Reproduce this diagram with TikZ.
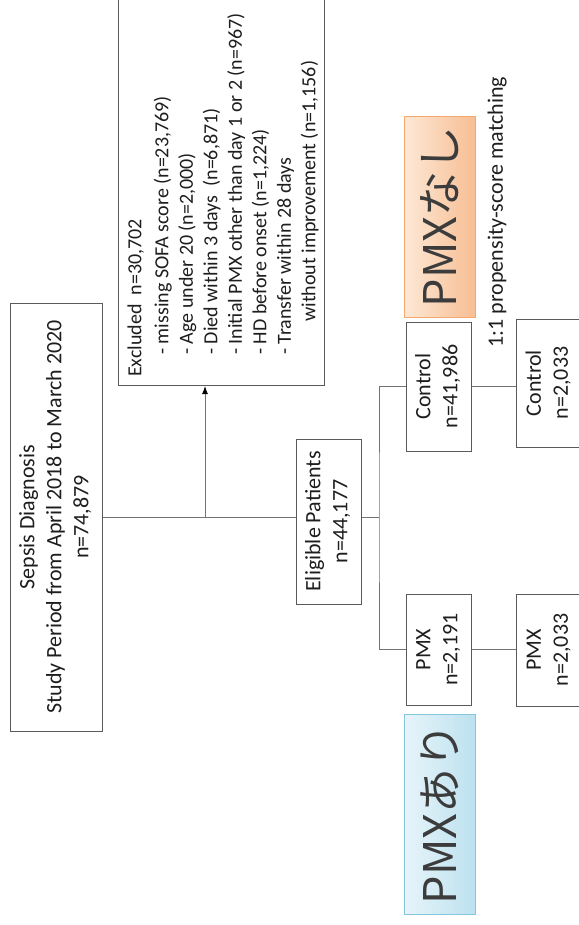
\documentclass[tikz,border=0pt]{standalone}
\usepackage{fontspec}
\usepackage{graphicx}
\setmainfont{Carlito}
\newfontfamily\jpfont{Noto Sans CJK JP}
\usetikzlibrary{arrows.meta}
\definecolor{boxgray}{HTML}{5A5A5A}
\definecolor{linegray}{HTML}{737373}
\definecolor{txt}{HTML}{1E1E1E}
\definecolor{bigtxt}{HTML}{3C3C3C}
\definecolor{orL}{HTML}{FDE8D6}
\definecolor{orR}{HTML}{F7BE93}
\definecolor{orB}{HTML}{F4A86E}
\definecolor{blL}{HTML}{E7F4FA}
\definecolor{blR}{HTML}{BCE1EF}
\definecolor{blB}{HTML}{86C6DD}
\newcommand\rt[2]{\rotatebox{90}{\begin{tabular}{@{}#1@{}}#2\end{tabular}}}
\begin{document}
\begin{tikzpicture}[x=1pt,y=-1pt,
  box/.style={draw=boxgray, line width=1pt, rectangle, inner sep=0pt,
    font=\fontsize{22}{27}\selectfont, text=txt},
  conn/.style={draw=linegray, line width=1pt},
  bigbox/.style={rectangle, inner sep=0pt, line width=1pt,
    minimum width=71pt, minimum height=200pt,
    font=\jpfont\fontsize{45}{50}\selectfont, text=bigtxt},
  ]
\useasboundingbox (0,0) rectangle (578,925);
\fill[white] (0,0) rectangle (578,925);

% boxes
\node[box, minimum width=92pt, minimum height=428pt] (sepsis) at (56,517)
  {\rt{c}{Sepsis Diagnosis\\Study Period from April 2018 to March 2020\\n=74,879}};
\node[box, minimum width=206pt, minimum height=400pt, anchor=south west] (excl) at (118,386) {};
\node[anchor=south west, inner sep=0pt, font=\fontsize{20}{24.5}\selectfont, text=txt] (excltxt) at (124,377)
  {\rt{l}{Excluded\ \ n=30,702\\[2.5pt]
  \hspace{22pt}- missing SOFA score (n=23,769)\\
  \hspace{22pt}- Age under 20 (n=2,000)\\
  \hspace{22pt}- Died within 3 days\ \ (n=6,871)\\
  \hspace{22pt}- Initial PMX other than day 1 or 2 (n=967)\\
  \hspace{22pt}- HD before onset (n=1,224)\\
  \hspace{22pt}- Transfer within 28 days\\
  \hspace{55pt}without improvement (n=1,156)}};
\node[box, minimum width=65pt, minimum height=165pt] (elig) at (328.5,521.5)
  {\rt{c}{Eligible Patients\\n=44,177}};
\node[box, minimum width=65pt, minimum height=129pt] (ctrl) at (438.5,386.5)
  {\rt{c}{Control\\n=41,986}};
\node[box, minimum width=65pt, minimum height=111pt] (pmx) at (438.5,649.5)
  {\rt{c}{PMX\\n=2,191}};
\node[box, minimum width=66pt, minimum height=128pt] (ctrl2) at (549,383)
  {\rt{c}{Control\\n=2,033}};
\node[box, minimum width=66pt, minimum height=112pt] (pmx2) at (549,650)
  {\rt{c}{PMX\\n=2,033}};

% labels
\node[inner sep=0pt, font=\fontsize{22}{27}\selectfont, text=txt] (match) at (497,212)
  {\rotatebox{90}{1:1 propensity-score matching}};
\node[bigbox, draw=orB, left color=orL, right color=orR] (nashi) at (439.5,217)
  {\rotatebox{90}{PMXなし}};
\node[bigbox, draw=blB, left color=blL, right color=blR] (ari) at (440,814)
  {\rotatebox{90}{PMXあり}};

% connectors
\coordinate (jx) at (205,517);
\coordinate (br) at (379,517);
\draw[conn] (sepsis.east) -- (sepsis.east -| elig.west);
\draw[conn, -{Latex[length=8pt,width=6pt,color=black]}] (jx) -- (jx |- excl.south);
\draw[conn] (elig.east |- br) -- (br);
\draw[conn] (ctrl.west) -| (br) |- (pmx.west);
\draw[conn] (ctrl.east) -- (ctrl.east -| ctrl2.west);
\draw[conn] (pmx.east) -- (pmx.east -| pmx2.west);
\end{tikzpicture}
\end{document}
